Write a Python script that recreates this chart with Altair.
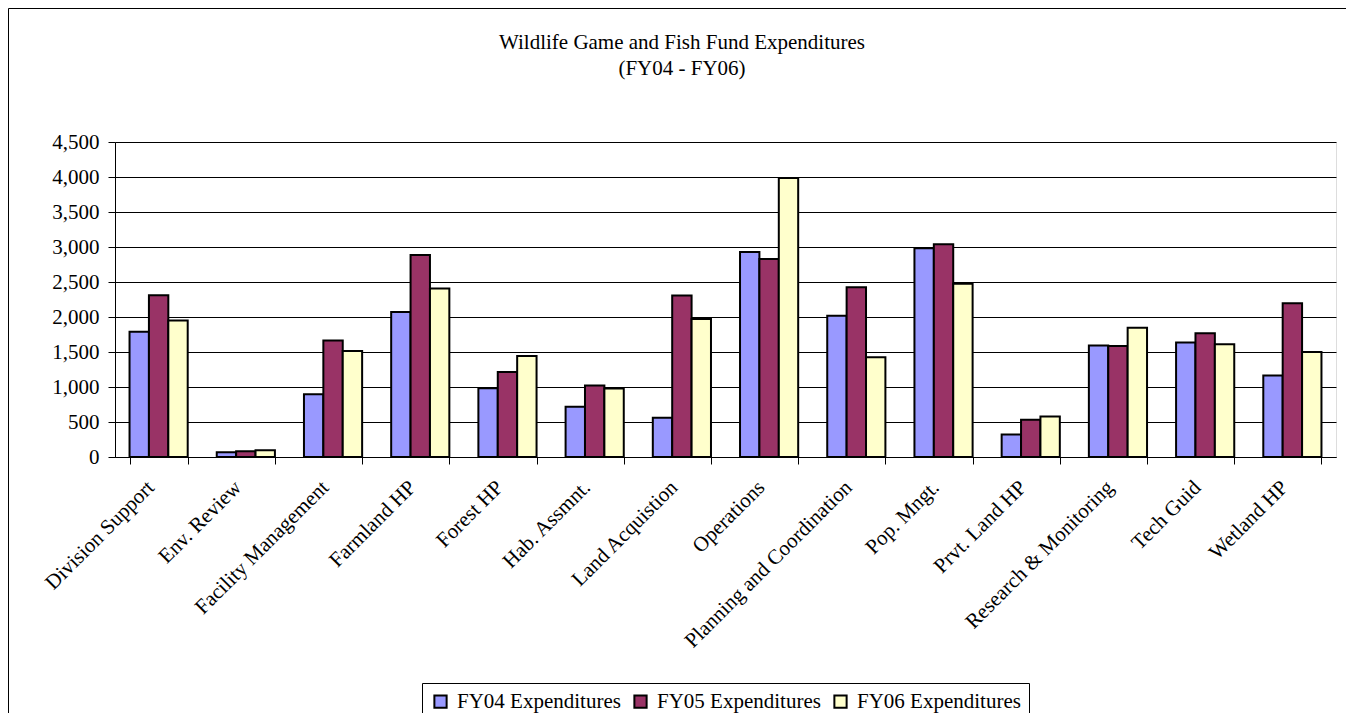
import altair as alt
import pandas as pd

categories = ["Division Support", "Env. Review", "Facility Management", "Farmland HP",
              "Forest HP", "Hab. Assmnt.", "Land Acquistion", "Operations",
              "Planning and Coordination", "Pop. Mngt.", "Prvt. Land HP",
              "Research & Monitoring", "Tech Guid", "Wetland HP"]
series = ["FY04 Expenditures", "FY05 Expenditures", "FY06 Expenditures"]
fy04 = [1788, 67, 896, 2071, 983, 719, 561, 2929, 2018, 2982, 321, 1592, 1635, 1165]
fy05 = [2311, 81, 1663, 2886, 1213, 1021, 2306, 2828, 2426, 3039, 532, 1587, 1769, 2196]
fy06 = [1951, 96, 1515, 2407, 1443, 978, 1970, 3984, 1424, 2474, 580, 1846, 1611, 1501]
colors = ["#9999FF", "#993366", "#FFFFCC"]
y_ticks = [0, 500, 1000, 1500, 2000, 2500, 3000, 3500, 4000, 4500]
title_lines = ["Wildlife Game and Fish Fund Expenditures", "(FY04 - FY06)"]

rows = []
for s, vals in zip(series, [fy04, fy05, fy06]):
    for c, v in zip(categories, vals):
        rows.append({"Category": c, "Series": s, "Value": v})
df = pd.DataFrame(rows)

FONT = "Liberation Serif"
FS = 21
W, H = 1221, 315

bars = alt.Chart(df).mark_bar(stroke="black", strokeWidth=2).encode(
    x=alt.X("Category:N", sort=categories, title=None,
            scale=alt.Scale(paddingInner=0.333, paddingOuter=0.1667),
            axis=alt.Axis(labelAngle=-45, labelAlign="right", labelBaseline="middle",
                          labelFontSize=FS, labelFont=FONT, labelColor="black",
                          labelPadding=20, labelOffset=-8, labelLimit=500,
                          tickBand="extent", tickSize=7, tickColor="black",
                          domainColor="black", domainWidth=1, grid=False)),
    xOffset=alt.XOffset("Series:N", sort=series,
                        scale=alt.Scale(paddingInner=0, paddingOuter=0)),
    y=alt.Y("Value:Q", title=None,
            scale=alt.Scale(domain=[0, 4500], nice=False),
            axis=alt.Axis(values=y_ticks, format=",.0f", labelFontSize=FS, labelFont=FONT,
                          labelColor="black", tickSize=7, tickColor="black",
                          labelPadding=9, domainColor="black", gridColor="black",
                          gridWidth=1, grid=True)),
    color=alt.Color("Series:N", sort=series,
                    scale=alt.Scale(domain=series, range=colors),
                    legend=alt.Legend(title=None, orient="none", direction="horizontal",
                                      legendX=307, legendY=541,
                                      strokeColor="black", fillColor="white",
                                      padding=8, symbolType="square", symbolSize=150,
                                      symbolStrokeColor="black", symbolStrokeWidth=2,
                                      labelFontSize=FS, labelFont=FONT, labelColor="black",
                                      labelLimit=400, labelOffset=6, columnPadding=9)),
)

one = pd.DataFrame({"a": [0]})
frame = alt.Chart(one).mark_rect(
    fill=None, stroke="black", strokeWidth=1, clip=False
).encode(
    x=alt.value(-106.5), x2=alt.value(1300), y=alt.value(-133.5), y2=alt.value(700)
)

title1 = alt.Chart(one).mark_text(
    font=FONT, fontSize=FS, color="black", align="center", baseline="middle"
).encode(x=alt.value(567), y=alt.value(-99), text=alt.value(title_lines[0]))
title2 = alt.Chart(one).mark_text(
    font=FONT, fontSize=FS, color="black", align="center", baseline="middle"
).encode(x=alt.value(567), y=alt.value(-73), text=alt.value(title_lines[1]))

chart = alt.layer(frame, title1, title2, bars).properties(
    width=W, height=H,
    autosize=alt.AutoSizeParams(type="none"),
    padding={"left": 107, "top": 134, "right": 10, "bottom": 256},
).configure_view(
    fill="#C0C0C0", stroke="#808080", strokeWidth=2
).configure(background="white")

chart.save("out.html", embed_options={"renderer": "svg", "actions": False})
